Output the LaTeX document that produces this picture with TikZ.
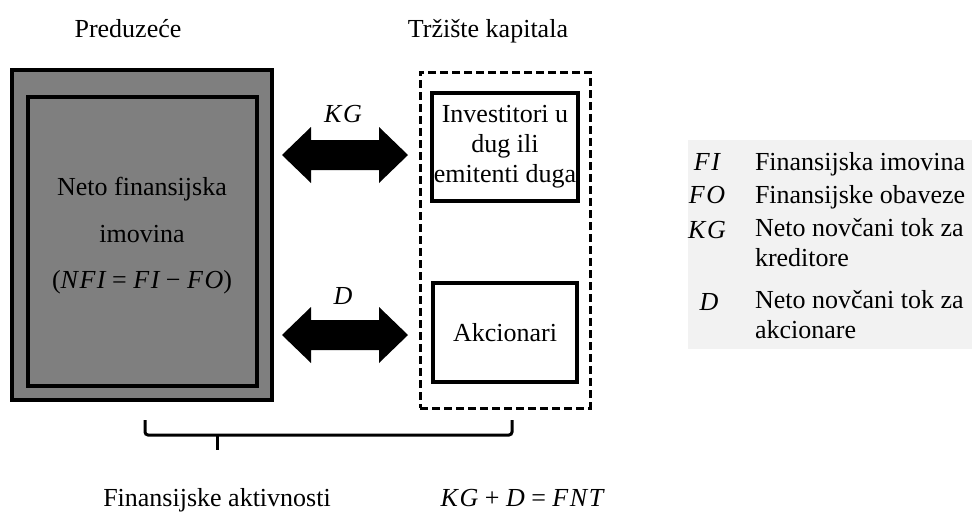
\documentclass[tikz,border=0pt]{standalone}
\usepackage{fontspec}
\setmainfont{Liberation Serif}
\usetikzlibrary{calc}
% wide double-headed arrow between two points on one horizontal line
\newcommand\fatarrow[2]{%
  \fill let \p1=(#1), \p2=(#2) in
    (\x1,\y1) -- (\x1+29pt,\y1+28pt) -- (\x1+29pt,\y1+15pt) --
    (\x2-29pt,\y1+15pt) -- (\x2-29pt,\y1+28pt) -- (\x2,\y1) --
    (\x2-29pt,\y1-28pt) -- (\x2-29pt,\y1-15pt) --
    (\x1+29pt,\y1-15pt) -- (\x1+29pt,\y1-28pt) -- cycle;}
% italic symbols, set a little loose
\newcommand\sym[1]{{\itshape\addfontfeatures{LetterSpace=6}#1}}
\begin{document}
\begin{tikzpicture}[x=1pt,y=-1pt,
  every node/.style={font=\fontsize{26}{30}\selectfont, inner sep=0pt, outer sep=0pt},
  firmbox/.style={draw=black, line width=4pt, fill=gray50},
  innerbox/.style={draw=black, line width=3.5pt},
  marketbox/.style={draw=black, line width=3pt, dash pattern=on 8pt off 4pt},
  partybox/.style={draw=black, line width=3.5pt, fill=white},
  basetext/.style={anchor=base},
  legendtext/.style={anchor=base west},
]
\definecolor{gray50}{HTML}{7F7F7F}
\definecolor{legendbg}{HTML}{F2F2F2}
\useasboundingbox (0,0) rectangle (972,512);

% titles
\node[basetext] (ttlfirm) at (128,37) {Preduzeće};
\node[basetext] (ttlmarket) at (488,37) {Tržište kapitala};

% the firm
\node[firmbox, minimum width=260pt, minimum height=330pt] (firm) at (142,235) {};
\node[innerbox, minimum width=229pt, minimum height=289pt] (nfa) at (142.5,241.5) {};
\node[align=center, font=\fontsize{26}{46.5}\selectfont] (nfatext) at (142,236)
  {Neto finansijska\\imovina\\(\sym{NFI} = \sym{FI} − \sym{FO})};

% the capital market
\node[marketbox, minimum width=170pt, minimum height=336pt] (market) at (505,240) {};
\node[partybox, minimum width=146pt, minimum height=108pt, align=center,
      font=\fontsize{26}{30}\selectfont] (debt) at (505,147)
  {Investitori u\\dug ili\\emitenti duga};
\node[partybox, minimum width=144pt, minimum height=99pt] (equity) at (505,332.5) {Akcionari};

% cash flows between the firm and the market
\coordinate (kgA) at (282,155);
\coordinate (kgB) at (408,155);
\coordinate (dA) at (282,335);
\coordinate (dB) at (408,335);
\fatarrow{kgA}{kgB}
\fatarrow{dA}{dB}
\node[basetext] (kg) at (343,122) {\sym{KG}};
\node[basetext] (d) at (343,304) {\sym{D}};

% brace under both parties
\draw[line width=3pt, rounded corners=3pt] (145,420) -- (145,435) -- (512,435) -- (512,420);
\draw[line width=3pt] (217,435) -- (217,450);

% bottom captions
\node[basetext] (fa) at (217,506) {Finansijske aktivnosti};
\node[basetext] (fnt) at (522,506) {\sym{KG} + \sym{D} = \sym{FNT}};

% legend
\fill[legendbg] (688,140) rectangle (972,349);
\node[basetext] (lfi) at (707,170) {\sym{FI}};
\node[legendtext] (lfit) at (755,170) {Finansijska imovina};
\node[basetext] (lfo) at (707,203) {\sym{FO}};
\node[legendtext] (lfot) at (755,203) {Finansijske obaveze};
\node[basetext] (lkg) at (707,238) {\sym{KG}};
\node[legendtext] (lkgt) at (755,236) {Neto novčani tok za};
\node[legendtext] (lkgt2) at (755,266) {kreditore};
\node[basetext] (ld) at (709,310) {\sym{D}};
\node[legendtext] (ldt) at (755,308) {Neto novčani tok za};
\node[legendtext] (ldt2) at (755,338) {akcionare};
\end{tikzpicture}
\end{document}
